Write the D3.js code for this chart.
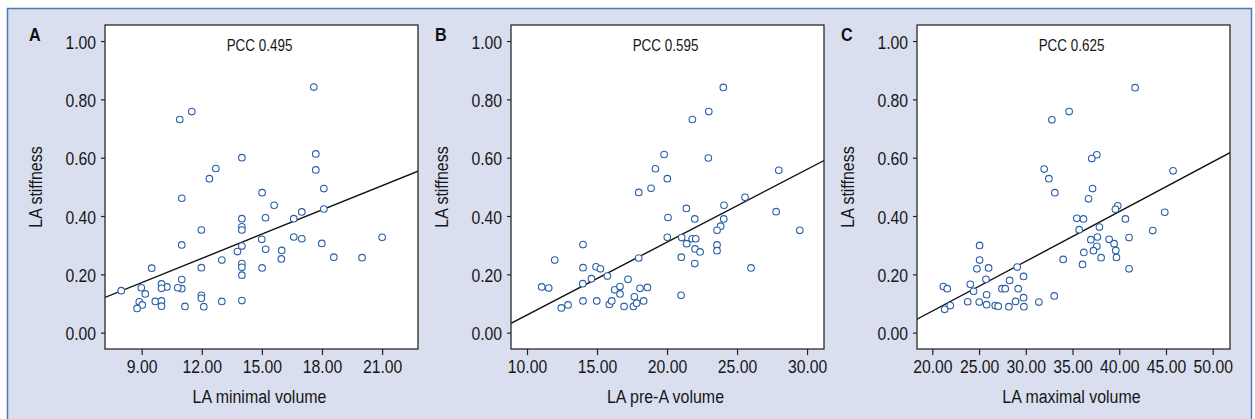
<!DOCTYPE html>
<html><head><meta charset="utf-8">
<script src="https://cdn.jsdelivr.net/npm/d3@7"></script>
<style>
html,body{margin:0;padding:0;background:#fff;}
svg{display:block;}
text{font-family:"Liberation Sans",Arial,sans-serif;}
</style></head><body>
<svg id="chart" width="1255" height="419"></svg>
<script>
// ---- data ----
const panelLetters = ["A", "B", "C"];
const xTitles = ["LA minimal volume", "LA pre-A volume", "LA maximal volume"];
const yTitle = "LA stiffness";
const pccLabels = ["PCC 0.495", "PCC 0.595", "PCC 0.625"];
const yTickValues = [0, 0.2, 0.4, 0.6, 0.8, 1.0];
const xTicksA = [9, 12, 15, 18, 21];
const xTicksB = [10, 15, 20, 25, 30];
const xTicksC = [20, 25, 30, 35, 40, 45, 50];

const aX = [17.59,11.50,10.90,14.0,17.69,17.69,12.70,12.38,18.09,11.0,
  15.01,15.61,16.99,18.09,16.59,15.18,14.0,14.0,14.0,11.98,
  11.0,14.0,13.78,14.99,15.19,16.59,16.99,17.99,15.99,15.97,
  18.59,20.0,21.0,13.0,14.0,14.0,14.0,15.01,11.98,9.50,
  11.0,11.0,10.80,10.26,9.99,9.99,8.98,9.18,7.98,8.88,
  9.03,8.77,9.68,9.99,9.99,11.16,11.98,11.98,12.10,13.0,14.0];
const aY = [0.842,0.758,0.731,0.600,0.613,0.558,0.563,0.528,0.494,0.461,
  0.480,0.437,0.414,0.424,0.391,0.394,0.391,0.363,0.352,0.352,
  0.301,0.297,0.278,0.320,0.286,0.328,0.322,0.306,0.282,0.253,
  0.259,0.257,0.327,0.249,0.237,0.224,0.197,0.222,0.223,0.221,
  0.182,0.151,0.154,0.157,0.167,0.152,0.154,0.133,0.144,0.106,
  0.095,0.083,0.107,0.109,0.091,0.090,0.128,0.118,0.089,0.107,0.110];

const bX = [24.02,22.98,21.81,22.95,19.79,19.17,20.02,18.86,17.98,27.98,
  25.57,24.07,27.79,21.38,20.07,21.98,24.05,23.83,23.57,29.48,
  20.02,21.05,21.79,22.05,21.40,23.57,23.57,22.0,22.36,21.02,
  21.98,26.0,21.0,17.98,14.0,11.98,14.0,14.93,15.24,15.74,
  14.60,13.98,17.21,11.05,11.55,16.26,16.64,16.64,18.07,18.60,
  17.67,12.45,12.93,14.0,14.98,15.88,16.05,16.93,17.60,17.83,18.33];
const bY = [0.841,0.758,0.731,0.599,0.611,0.562,0.528,0.495,0.481,0.557,
  0.464,0.437,0.415,0.426,0.395,0.390,0.390,0.365,0.351,0.351,
  0.327,0.326,0.322,0.322,0.305,0.301,0.281,0.287,0.277,0.259,
  0.237,0.222,0.128,0.256,0.302,0.249,0.223,0.226,0.219,0.194,
  0.185,0.168,0.183,0.157,0.153,0.147,0.158,0.133,0.152,0.155,
  0.123,0.085,0.095,0.109,0.109,0.097,0.109,0.090,0.090,0.101,0.109];

const cX = [41.70,34.64,32.79,37.60,37.06,31.97,32.47,33.11,37.14,36.71,
  45.76,39.84,39.59,44.87,35.46,36.17,40.66,37.88,35.71,43.58,
  36.96,37.67,38.92,41.05,39.45,37.60,37.24,39.63,36.21,39.70,
  38.06,34.0,36.07,41.05,33.04,25.06,25.06,24.77,26.02,25.74,
  24.06,24.42,25.81,21.18,21.60,21.32,21.92,23.78,25.02,25.81,
  26.73,27.05,27.45,27.80,28.27,29.08,29.19,29.76,29.76,28.91,
  28.19,29.80,31.40];
const cY = [0.840,0.758,0.730,0.610,0.597,0.561,0.528,0.480,0.494,0.459,
  0.555,0.435,0.423,0.413,0.392,0.390,0.390,0.362,0.353,0.350,
  0.319,0.328,0.320,0.326,0.305,0.296,0.281,0.282,0.275,0.258,
  0.257,0.251,0.234,0.219,0.126,0.299,0.249,0.219,0.222,0.183,
  0.166,0.142,0.130,0.158,0.151,0.080,0.093,0.106,0.105,0.096,
  0.093,0.091,0.151,0.151,0.179,0.225,0.151,0.193,0.120,0.107,
  0.089,0.089,0.105];

// fit lines: [intercept, slope]
const fitA = [-0.078, 0.02772];
const fitB = [-0.189, 0.02497];
const fitC = [-0.267, 0.01705];

// ---- layout ----
const yDomain = [-0.056, 1.055];
const layout = [
  {left: 105, xDomain: [7.17, 22.79], xs: aX, ys: aY, ticks: xTicksA, fit: fitA},
  {left: 511, xDomain: [8.857, 31.21], xs: bX, ys: bY, ticks: xTicksB, fit: fitB},
  {left: 917, xDomain: [18.36, 51.85], xs: cX, ys: cY, ticks: xTicksC, fit: fitC}
];
const boxW = 313, plotTop = 25, plotBottom = 349;
const tickSqueeze = 0.9, titleSqueeze = 0.84; // horizontal squeeze to mimic a condensed face

const svg = d3.select("#chart");
svg.append("rect").attr("x", 7.5).attr("y", 8.5).attr("width", 1244).attr("height", 430)
  .attr("fill", "#dadff0").attr("stroke", "#4a7ab8").attr("stroke-width", 1.5);

const textColor = "#161616";

// place a condensed text: anchor at (ax, ay)
function narrowText(g, ax, ay, str, opts) {
  const t = g.append("text")
    .attr("transform", `translate(${ax},${ay})${opts.rotate ? " rotate(" + opts.rotate + ")" : ""} scale(${opts.squeeze || titleSqueeze},1)`)
    .attr("text-anchor", opts.anchor || "start")
    .attr("font-size", opts.size).attr("fill", opts.fill || textColor)
    .text(str);
  if (opts.weight) t.attr("font-weight", opts.weight);
  return t;
}

layout.forEach((p, i) => {
  const g = svg.append("g");
  const x = d3.scaleLinear().domain(p.xDomain).range([p.left, p.left + boxW]);
  const y = d3.scaleLinear().domain(yDomain).range([plotBottom, plotTop]);

  g.append("rect").attr("x", p.left).attr("y", plotTop).attr("width", boxW).attr("height", plotBottom - plotTop)
    .attr("fill", "#fff");

  const clipId = "clip" + i;
  svg.append("clipPath").attr("id", clipId).append("rect")
    .attr("x", p.left).attr("y", plotTop).attr("width", boxW).attr("height", plotBottom - plotTop);

  const yAx = g.append("g").attr("transform", `translate(${p.left},0)`)
    .call(d3.axisLeft(y).tickValues(yTickValues).tickFormat(d3.format(".2f")).tickSize(4).tickPadding(5));
  const xAx = g.append("g").attr("transform", `translate(0,${plotBottom})`)
    .call(d3.axisBottom(x).tickValues(p.ticks).tickFormat(d3.format(".2f")).tickSize(6).tickPadding(6));
  yAx.selectAll("text").attr("dy", "0.41em");
  [yAx, xAx].forEach(a => {
    a.select(".domain").remove();
    a.selectAll("line").attr("stroke", "#222").attr("stroke-width", 1.2);
    a.selectAll("text").attr("font-size", "17.5px").attr("fill", textColor)
      .attr("transform", function () {
        const tx = +d3.select(this).attr("x") || 0;
        return `translate(${tx},0) scale(${tickSqueeze},1) translate(${-tx},0)`;
      });
  });

  // regression line
  const line = d3.line().x(d => x(d)).y(d => y(p.fit[0] + p.fit[1] * d));
  g.append("path").datum(p.xDomain).attr("d", line).attr("clip-path", `url(#${clipId})`)
    .attr("fill", "none").attr("stroke", "#111").attr("stroke-width", 1.4);

  // points
  g.append("g").selectAll("circle").data(p.xs.map((v, k) => [v, p.ys[k]])).join("circle")
    .attr("cx", d => x(d[0])).attr("cy", d => y(d[1])).attr("r", 3.3)
    .attr("fill", "#fff").attr("stroke", "#2a5fa6").attr("stroke-width", 1.1);

  // frame
  g.append("rect").attr("x", p.left).attr("y", plotTop).attr("width", boxW).attr("height", plotBottom - plotTop)
    .attr("fill", "none").attr("stroke", "#2a2a2a").attr("stroke-width", 1.3);

  // texts
  const cx = p.left + boxW / 2 - 2;
  narrowText(g, cx, 51, pccLabels[i], {anchor: "middle", size: "16px"});
  narrowText(g, cx, 403, xTitles[i], {anchor: "middle", size: "19px"});
  narrowText(g, p.left - 63, (plotTop + plotBottom) / 2, yTitle, {anchor: "middle", size: "19px", rotate: -90});
  narrowText(g, p.left - 76, 41, panelLetters[i], {size: "19px", weight: "bold", fill: "#111", squeeze: 0.85});
});
</script></body></html>
